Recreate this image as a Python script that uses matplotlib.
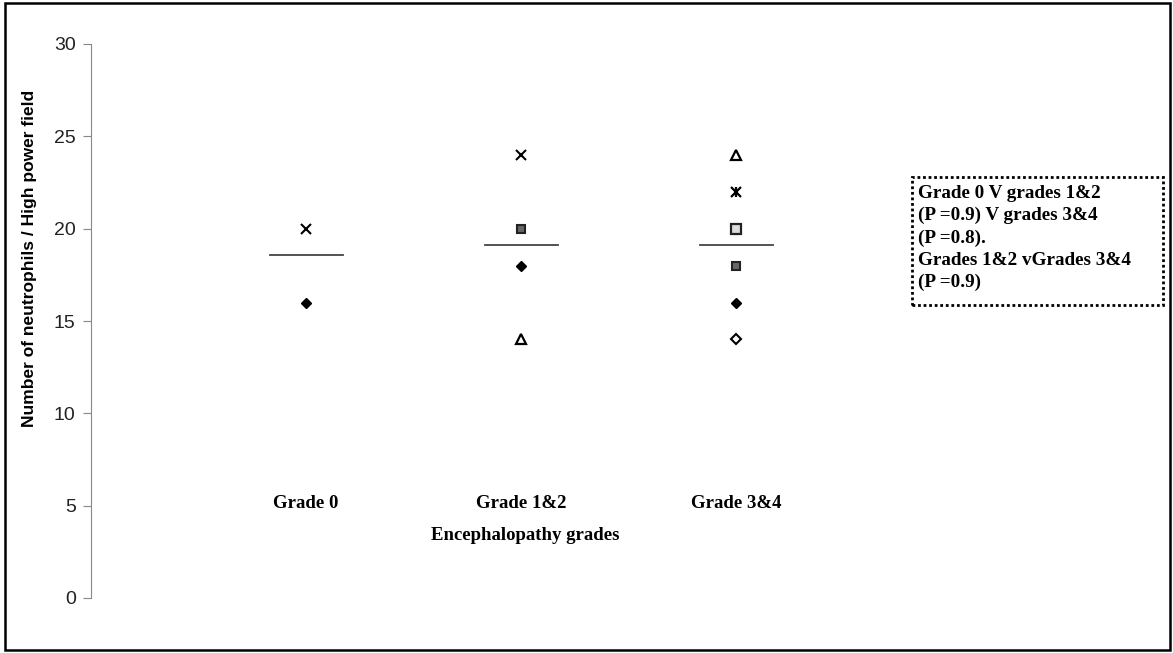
import matplotlib
matplotlib.use("Agg")
import matplotlib.pyplot as plt
from matplotlib.patches import Rectangle

# categories on the x axis
categories = ['Grade 0', 'Grade 1&2', 'Grade 3&4']
cat_x = [1, 2, 3]

# one series per symbol (None = no point in that group)
cross = [20, 24, None]
filled_diamond = [16, 18, 16]
pattern_square = [None, 20, 18]
triangle = [None, 14, 24]
star = [None, None, 22]
open_square = [None, None, 20]
open_diamond = [None, None, 14]

# mean line per group
means = [18.6, 19.1, 19.1]

note = ("Grade 0 V grades 1&2\n(P =0.9) V grades 3&4\n(P =0.8).\n"
        "Grades 1&2 vGrades 3&4\n(P =0.9)")

W, H = 1173, 653
fig = plt.figure(figsize=(W / 100, H / 100), dpi=100)
ax = fig.add_axes([91 / W, 55 / H, 796 / W, 554 / H])

serif = ['Liberation Serif', 'DejaVu Serif']
sans = ['Liberation Sans', 'DejaVu Sans']


def pts(series):
    xs = [x for x, v in zip(cat_x, series) if v is not None]
    ys = [v for v in series if v is not None]
    return xs, ys


ax.plot(*pts(cross), 'x', color='black', ms=7, mew=1.5, ls='none')
ax.plot(*pts(filled_diamond), 'D', color='black', ms=5.5, ls='none')
ax.plot(*pts(pattern_square), 's', mfc='#666666', mec='#222222', ms=6, mew=1.5, ls='none')
ax.plot(*pts(triangle), '^', mfc='white', mec='black', ms=7, mew=1.6, ls='none')
ax.plot(*pts(star), 'x', color='black', ms=7, mew=1.6, ls='none')
ax.plot(*pts(star), '|', color='black', ms=7, mew=1.6, ls='none')
ax.plot(*pts(open_square), 's', mfc='#dddddd', mec='#222222', ms=7, mew=1.6, ls='none')
ax.plot(*pts(open_diamond), 'D', mfc='white', mec='black', ms=5.5, mew=1.5, ls='none')

# mean lines
for x, m in zip(cat_x, means):
    ax.plot([x - 0.17, x + 0.17], [m, m], color='#444444', lw=1.3)

ax.set_xlim(0, 3.7)
ax.set_ylim(0, 30)
ax.set_yticks(range(0, 31, 5))
ax.tick_params(axis='y', direction='out', length=6, color='#888888',
               labelsize=14, labelcolor='#222222', pad=5)
for lab in ax.get_yticklabels():
    lab.set_family(sans)
ax.set_xticks([])
for s in ['top', 'right', 'bottom']:
    ax.spines[s].set_visible(False)
ax.spines['left'].set_color('#888888')

# category names and axis title inside the plot area
for x, c in zip(cat_x, categories):
    ax.text(x, 5.1, c, ha='center', va='center', fontsize=13.5,
            fontweight='bold', family=serif)
ax.text(2.02, 3.4, 'Encephalopathy grades', ha='center', va='center',
        fontsize=13.5, fontweight='bold', family=serif)

fig.text(30 / W, 1 - 258 / H, 'Number of neutrophils / High power field',
         rotation=90, ha='center', va='center', fontsize=12.5,
         fontweight='bold', family=sans)

# note box with dotted border
fig.patches.append(Rectangle((912 / W, 1 - 305 / H), 251 / W, 128 / H,
                             transform=fig.transFigure, fill=False,
                             ec='black', lw=2, ls=(0, (1, 1))))
fig.text(918 / W, 1 - 185 / H, note, ha='left', va='top', fontsize=13.8,
         fontweight='bold', family=serif, linespacing=1.38)

# outer frame
fig.patches.append(Rectangle((5 / W, 3 / H), 1165 / W, 647 / H,
                             transform=fig.transFigure, fill=False,
                             ec='black', lw=1.8))

fig.savefig('out.png', dpi=100)
